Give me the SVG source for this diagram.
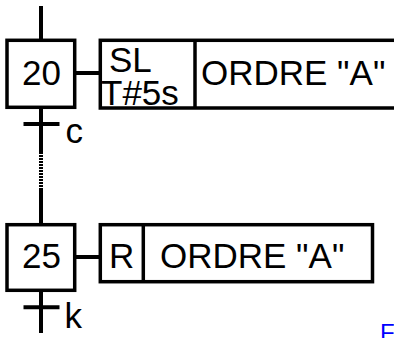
<svg xmlns="http://www.w3.org/2000/svg" width="394" height="338" viewBox="0 0 394 338">
<style>
.box{fill:#fff;stroke:#000;stroke-width:3.5}
.ln{stroke:#000;stroke-width:4;fill:none}
.dash{stroke:#000;stroke-width:4;fill:none;stroke-dasharray:2 1}
.t{font-family:"Liberation Sans",Arial,sans-serif;font-size:35px;fill:#000}
</style>
<g id="connectors">
<line class="ln" x1="41" y1="6" x2="41" y2="40"/>
<line class="ln" x1="41" y1="108" x2="41" y2="152"/>
<line class="dash" x1="41" y1="152" x2="41" y2="188"/>
<line class="ln" x1="41" y1="188" x2="41" y2="225"/>
<line class="ln" x1="41" y1="290" x2="41" y2="333"/>
<line class="ln" x1="75" y1="73" x2="100" y2="73"/>
<line class="ln" x1="75" y1="257" x2="100" y2="257"/>
</g>
<g id="step20">
<rect class="box" x="7" y="40.3" width="67.7" height="67"/>
<text class="t" x="41.5" y="85" text-anchor="middle">20</text>
</g>
<g id="action20">
<rect class="box" x="100.3" y="40.3" width="310" height="67.7"/>
<line class="ln" x1="195" y1="40" x2="195" y2="108" style="stroke-width:3.5"/>
<text class="t" x="109" y="72">SL</text>
<text class="t" x="101" y="105">T#5s</text>
<text class="t" x="201" y="85">ORDRE "A"</text>
</g>
<g id="transition-c">
<line class="ln" x1="23.5" y1="124" x2="59.5" y2="124"/>
<text class="t" x="65.5" y="143">c</text>
</g>
<g id="step25">
<rect class="box" x="7" y="224.7" width="67.7" height="65.6"/>
<text class="t" x="41.5" y="268.3" text-anchor="middle">25</text>
</g>
<g id="action25">
<rect class="box" x="100.3" y="224.7" width="272.2" height="57"/>
<line class="ln" x1="143.3" y1="224.7" x2="143.3" y2="281.7" style="stroke-width:3.5"/>
<text class="t" x="109" y="268.3">R</text>
<text class="t" x="160" y="268.3">ORDRE "A"</text>
</g>
<g id="transition-k">
<line class="ln" x1="23.5" y1="307.3" x2="59.5" y2="307.3"/>
<text class="t" x="64.5" y="328">k</text>
</g>
<text x="380" y="341" style="font-family:'Liberation Sans',Arial,sans-serif;font-size:24px;fill:#0000ff">F</text>
</svg>
